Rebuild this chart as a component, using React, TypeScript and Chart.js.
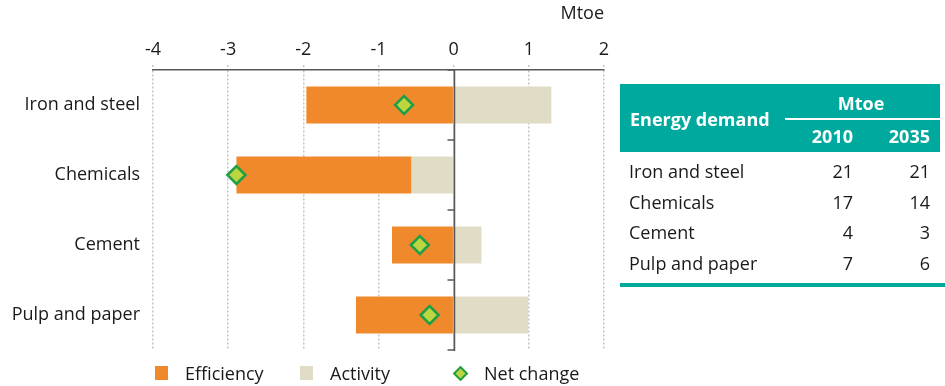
import React, { useEffect, useRef } from 'react';
import { Chart, registerables } from 'chart.js';

Chart.register(...registerables);

// ---------- data ----------
const categories = ['Iron and steel', 'Chemicals', 'Cement', 'Pulp and paper'];
const efficiency = [-1.96, -2.33, -0.82, -1.3];
const activity = [1.3, -0.56, 0.37, 0.99];
const netChange = [-0.66, -2.89, -0.45, -0.32];
const seriesNames = ['Efficiency', 'Activity', 'Net change'];
const xMin = -4;
const xMax = 2;
const unitLabel = 'Mtoe';

const tableTitle = 'Energy demand';
const tableUnit = 'Mtoe';
const tableYears = ['2010', '2035'];
const tableRows = ['Iron and steel', 'Chemicals', 'Cement', 'Pulp and paper'];
const demand2010 = [21, 17, 4, 7];
const demand2035 = [21, 14, 3, 6];

// ---------- styles ----------
const FONT = "'Open Sans', sans-serif";
const TEXT = '#1a1a1a';
const ORANGE = '#ef892b';
const BEIGE = '#e1dcc6';
const DIAMOND_FILL = '#bdd63f';
const DIAMOND_BORDER = '#1f9f47';
const AXIS = '#595959';
const GRID = '#c4c4c4';
const TEAL = '#00a99d';

const zeroLinePlugin = {
  id: 'zeroLine',
  afterDatasetsDraw(chart: any) {
    const { ctx, scales, chartArea } = chart;
    const x = scales.x;
    const y = scales.y;
    const x0 = Math.round(x.getPixelForValue(0)) + 0.5;
    ctx.save();
    ctx.strokeStyle = AXIS;
    ctx.lineWidth = 1.5;
    ctx.beginPath();
    ctx.moveTo(x0, chartArea.top);
    ctx.lineTo(x0, chartArea.bottom + 1);
    ctx.stroke();
    for (let i = 0; i <= categories.length; i++) {
      const py = y.getPixelForValue(i - 0.5);
      ctx.beginPath();
      ctx.moveTo(x0 - 7, py);
      ctx.lineTo(x0, py);
      ctx.stroke();
    }
    ctx.restore();
  },
};

function Txt({ x, y, children, align = 'left', style = {} }: any) {
  const w = 300;
  const left = align === 'left' ? x : align === 'right' ? x - w : x - w / 2;
  return (
    <div
      style={{
        position: 'absolute',
        left,
        top: y - 12,
        width: w,
        height: 24,
        lineHeight: '24px',
        textAlign: align,
        whiteSpace: 'nowrap',
        ...style,
      }}
    >
      {children}
    </div>
  );
}

export default function App() {
  const ref = useRef<HTMLCanvasElement>(null);

  useEffect(() => {
    if (!ref.current) return;
    Chart.defaults.font.family = FONT;
    Chart.defaults.font.size = 18;
    Chart.defaults.color = TEXT;
    const chart = new Chart(ref.current, {
      type: 'bar',
      data: {
        labels: categories,
        datasets: [
          {
            label: seriesNames[0],
            data: efficiency,
            backgroundColor: ORANGE,
            order: 2,
            categoryPercentage: 1,
            barPercentage: 0.53,
          } as any,
          {
            label: seriesNames[1],
            data: activity,
            backgroundColor: BEIGE,
            order: 1,
            categoryPercentage: 1,
            barPercentage: 0.53,
          } as any,
          {
            type: 'line',
            label: seriesNames[2],
            data: netChange,
            indexAxis: 'y',
            showLine: false,
            pointStyle: 'rectRot',
            pointRadius: 9,
            backgroundColor: DIAMOND_FILL,
            borderColor: DIAMOND_BORDER,
            borderWidth: 2.5,
            order: 0,
            stack: 'net',
          } as any,
        ],
      },
      options: {
        indexAxis: 'y',
        responsive: false,
        animation: false,
        layout: { padding: { top: 0, left: 0, right: 16, bottom: 36 } },
        plugins: {
          legend: { display: false },
          tooltip: { enabled: false },
        },
        scales: {
          x: {
            position: 'top',
            min: xMin,
            max: xMax,
            stacked: true,
            ticks: { stepSize: 1, padding: 4, color: TEXT, font: { size: 18 } },
            grid: {
              color: GRID,
              lineWidth: 1.5,
              tickLength: 5,
              tickBorderDash: [2, 2],
            },
            border: {
              display: true,
              color: AXIS,
              width: 1.5,
              dash: (c: any) => (c.tick && c.tick.value === 0 ? [] : [2, 2]),
            } as any,
            title: {
              display: true,
              text: unitLabel,
              align: 'end',
              color: TEXT,
              font: { size: 18 },
              padding: { top: 3, bottom: 0 },
            },
            afterFit: (s: any) => {
              s.height = 70;
            },
          } as any,
          y: {
            type: 'category',
            stacked: true,
            grid: { display: false, drawTicks: false },
            border: { display: false },
            ticks: { padding: 13, color: TEXT, font: { size: 18 } },
            afterFit: (s: any) => {
              s.width = 153;
            },
          } as any,
        },
      },
      plugins: [zeroLinePlugin],
    });
    return () => chart.destroy();
  }, []);

  const legendColors = [ORANGE, BEIGE];
  const legendSquareX = [155, 300];
  const legendTextX = [185, 330, 484];
  const legendY = 373;

  const headerTop = 84;
  const rowTop = 155.5;
  const rowH = 30.7;

  return (
    <div
      style={{
        position: 'absolute',
        left: 0,
        top: 0,
        width: 945,
        height: 386,
        fontFamily: FONT,
        fontSize: 18,
        color: TEXT,
        overflow: 'hidden',
      }}
    >
      <div style={{ position: 'absolute', left: 0, top: 0, width: 620, height: 386 }}>
        <canvas ref={ref} width={620} height={386} style={{ display: 'block' }} />
      </div>

      {/* legend */}
      {legendColors.map((c, i) => (
        <div
          key={'sq' + i}
          style={{
            position: 'absolute',
            left: legendSquareX[i],
            top: legendY - 7,
            width: 13,
            height: 14,
            background: c,
          }}
        />
      ))}
      <div
        style={{
          position: 'absolute',
          left: 460 - 5.5,
          top: legendY - 5.5,
          width: 11,
          height: 11,
          boxSizing: 'border-box',
          background: DIAMOND_FILL,
          border: `2.5px solid ${DIAMOND_BORDER}`,
          transform: 'rotate(45deg)',
        }}
      />
      {seriesNames.map((n, i) => (
        <Txt key={'lg' + i} x={legendTextX[i]} y={legendY}>
          {n}
        </Txt>
      ))}

      {/* table */}
      <div
        style={{
          position: 'absolute',
          left: 620,
          top: headerTop,
          width: 320,
          height: 68,
          background: TEAL,
          color: '#ffffff',
          fontWeight: 700,
        }}
      >
        <Txt x={10} y={35}>{tableTitle}</Txt>
        <Txt x={241} y={19} align="center">{tableUnit}</Txt>
        <div
          style={{
            position: 'absolute',
            left: 165,
            top: 34,
            width: 155,
            height: 2,
            background: '#ffffff',
          }}
        />
        <Txt x={233} y={52} align="right">{tableYears[0]}</Txt>
        <Txt x={310} y={52} align="right">{tableYears[1]}</Txt>
      </div>
      {tableRows.map((r, i) => (
        <React.Fragment key={'row' + i}>
          <Txt x={629} y={rowTop + rowH * i + rowH / 2}>{r}</Txt>
          <Txt x={853} y={rowTop + rowH * i + rowH / 2} align="right">
            {demand2010[i]}
          </Txt>
          <Txt x={930} y={rowTop + rowH * i + rowH / 2} align="right">
            {demand2035[i]}
          </Txt>
        </React.Fragment>
      ))}
      <div
        style={{
          position: 'absolute',
          left: 620,
          top: 283,
          width: 325,
          height: 4,
          background: TEAL,
        }}
      />
    </div>
  );
}
